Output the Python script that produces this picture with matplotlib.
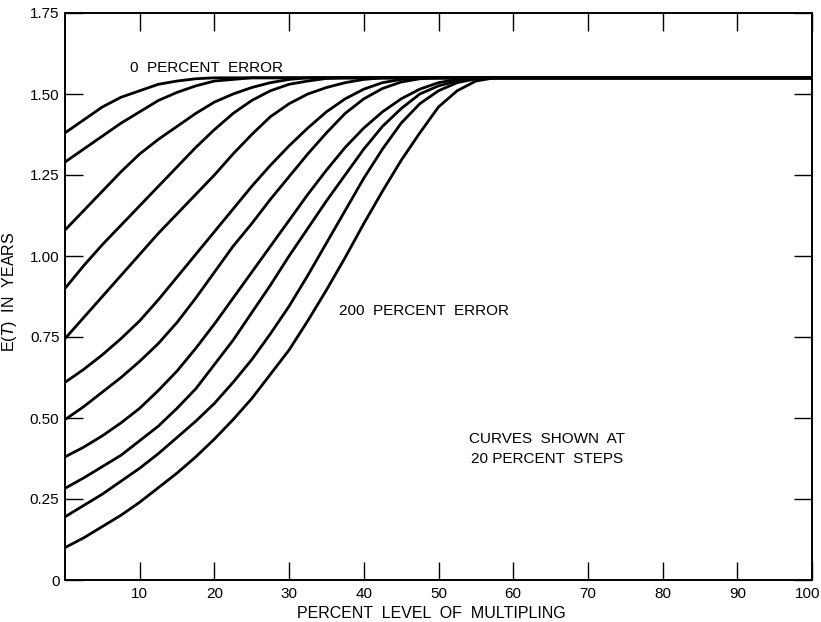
import matplotlib
matplotlib.use("Agg")
import matplotlib.pyplot as plt
import matplotlib.transforms as mtransforms

plt.rcParams['font.family'] = ['Liberation Sans', 'DejaVu Sans']

# percent level of multipling where the curves were read
x_pts = [0, 2.5, 5, 7.5, 10, 12.5, 15, 17.5, 20, 22.5, 25, 27.5, 30,
         32.5, 35, 37.5, 40, 42.5, 45, 47.5, 50, 52.5, 55, 57.5, 60, 100]

# E(T) in years, one curve per error level (0 .. 200 percent, 20 percent steps)
err_0 = [1.38, 1.42, 1.46, 1.49, 1.51, 1.53, 1.54, 1.547, 1.55] + [1.55] * 17
err_20 = [1.29, 1.33, 1.37, 1.41, 1.445, 1.48, 1.505, 1.525, 1.54, 1.545,
          1.55] + [1.55] * 15
err_40 = [1.08, 1.14, 1.20, 1.26, 1.315, 1.36, 1.40, 1.44, 1.475, 1.50,
          1.52, 1.535, 1.545, 1.55] + [1.55] * 12
err_60 = [0.90, 0.97, 1.035, 1.095, 1.155, 1.215, 1.275, 1.335, 1.39, 1.44,
          1.48, 1.51, 1.53, 1.54, 1.548, 1.55] + [1.55] * 10
err_80 = [0.745, 0.81, 0.875, 0.94, 1.005, 1.07, 1.13, 1.19, 1.25, 1.315,
          1.375, 1.43, 1.47, 1.50, 1.52, 1.535, 1.545, 1.55] + [1.55] * 8
err_100 = [0.61, 0.65, 0.695, 0.745, 0.80, 0.865, 0.935, 1.005, 1.075, 1.145,
           1.215, 1.28, 1.34, 1.395, 1.445, 1.485, 1.515, 1.535, 1.545,
           1.55] + [1.55] * 6
err_120 = [0.495, 0.535, 0.58, 0.625, 0.675, 0.73, 0.795, 0.87, 0.95, 1.03,
           1.10, 1.175, 1.245, 1.315, 1.38, 1.44, 1.485, 1.517, 1.537, 1.547,
           1.55] + [1.55] * 5
err_140 = [0.38, 0.41, 0.445, 0.485, 0.53, 0.585, 0.645, 0.715, 0.79, 0.87,
           0.95, 1.03, 1.11, 1.19, 1.265, 1.335, 1.395, 1.445, 1.485, 1.515,
           1.535, 1.545, 1.55] + [1.55] * 3
err_160 = [0.283, 0.315, 0.35, 0.385, 0.43, 0.475, 0.53, 0.59, 0.665, 0.74,
           0.825, 0.91, 1.00, 1.085, 1.17, 1.25, 1.33, 1.40, 1.455, 1.50,
           1.525, 1.54, 1.548, 1.55] + [1.55] * 2
err_180 = [0.195, 0.23, 0.265, 0.305, 0.345, 0.39, 0.44, 0.49, 0.545, 0.61,
           0.68, 0.76, 0.845, 0.94, 1.04, 1.14, 1.24, 1.33, 1.41, 1.47,
           1.51, 1.535, 1.547, 1.55] + [1.55] * 2
err_200 = [0.10, 0.13, 0.165, 0.20, 0.24, 0.285, 0.33, 0.38, 0.435, 0.495,
           0.56, 0.635, 0.71, 0.80, 0.895, 0.995, 1.10, 1.20, 1.295, 1.38,
           1.46, 1.51, 1.54, 1.55] + [1.55] * 2

curves = [err_0, err_20, err_40, err_60, err_80, err_100,
          err_120, err_140, err_160, err_180, err_200]

x_ticks = [10, 20, 30, 40, 50, 60, 70, 80, 90, 100]
y_ticks = [0, 0.25, 0.50, 0.75, 1.00, 1.25, 1.50, 1.75]
y_labels = ['0', '0.25', '0.50', '0.75', '1.00', '1.25', '1.50', '1.75']

fig = plt.figure(figsize=(8.21, 6.22), dpi=100)
ax = fig.add_axes([65 / 821, 42 / 622, 747 / 821, 567 / 622])

for ys in curves:
    ax.plot(x_pts, ys, color='black', linewidth=2.0, solid_joinstyle='round')

ax.set_xlim(0, 100)
ax.set_ylim(0, 1.75)
ax.set_xticks(x_ticks)
ax.set_xticklabels([str(t) for t in x_ticks])
ax.set_yticks(y_ticks)
ax.set_yticklabels(y_labels)

ax.tick_params(direction='in', length=13, width=1.0, colors='black',
               labelsize=11, top=True, right=True, pad=4)
ax.tick_params(axis='x', pad=5)
for sp in ax.spines.values():
    sp.set_linewidth(1.4)
    sp.set_color('black')

# nudge the "100" label so it stays inside the figure
last = ax.get_xticklabels()[-1]
last.set_transform(last.get_transform() +
                   mtransforms.ScaledTranslation(-4 / 100, 0, fig.dpi_scale_trans))

ax.set_xlabel('PERCENT  LEVEL  OF  MULTIPLING', fontsize=11.5)
ax.xaxis.set_label_coords(0.49, -0.046)
ax.set_ylabel(r'E($\it{T}$)  IN  YEARS', fontsize=11.5)
ax.yaxis.set_label_coords(-0.062, 0.508)

ax.text(19.0, 1.58, '0  PERCENT  ERROR', fontsize=11, ha='center', va='center')
ax.text(48.0, 0.83, '200  PERCENT  ERROR', fontsize=11, ha='center', va='center')
ax.text(64.5, 0.403, 'CURVES  SHOWN  AT\n20 PERCENT  STEPS', fontsize=11,
        ha='center', va='center', linespacing=1.55)

fig.savefig('out.png', dpi=100)
